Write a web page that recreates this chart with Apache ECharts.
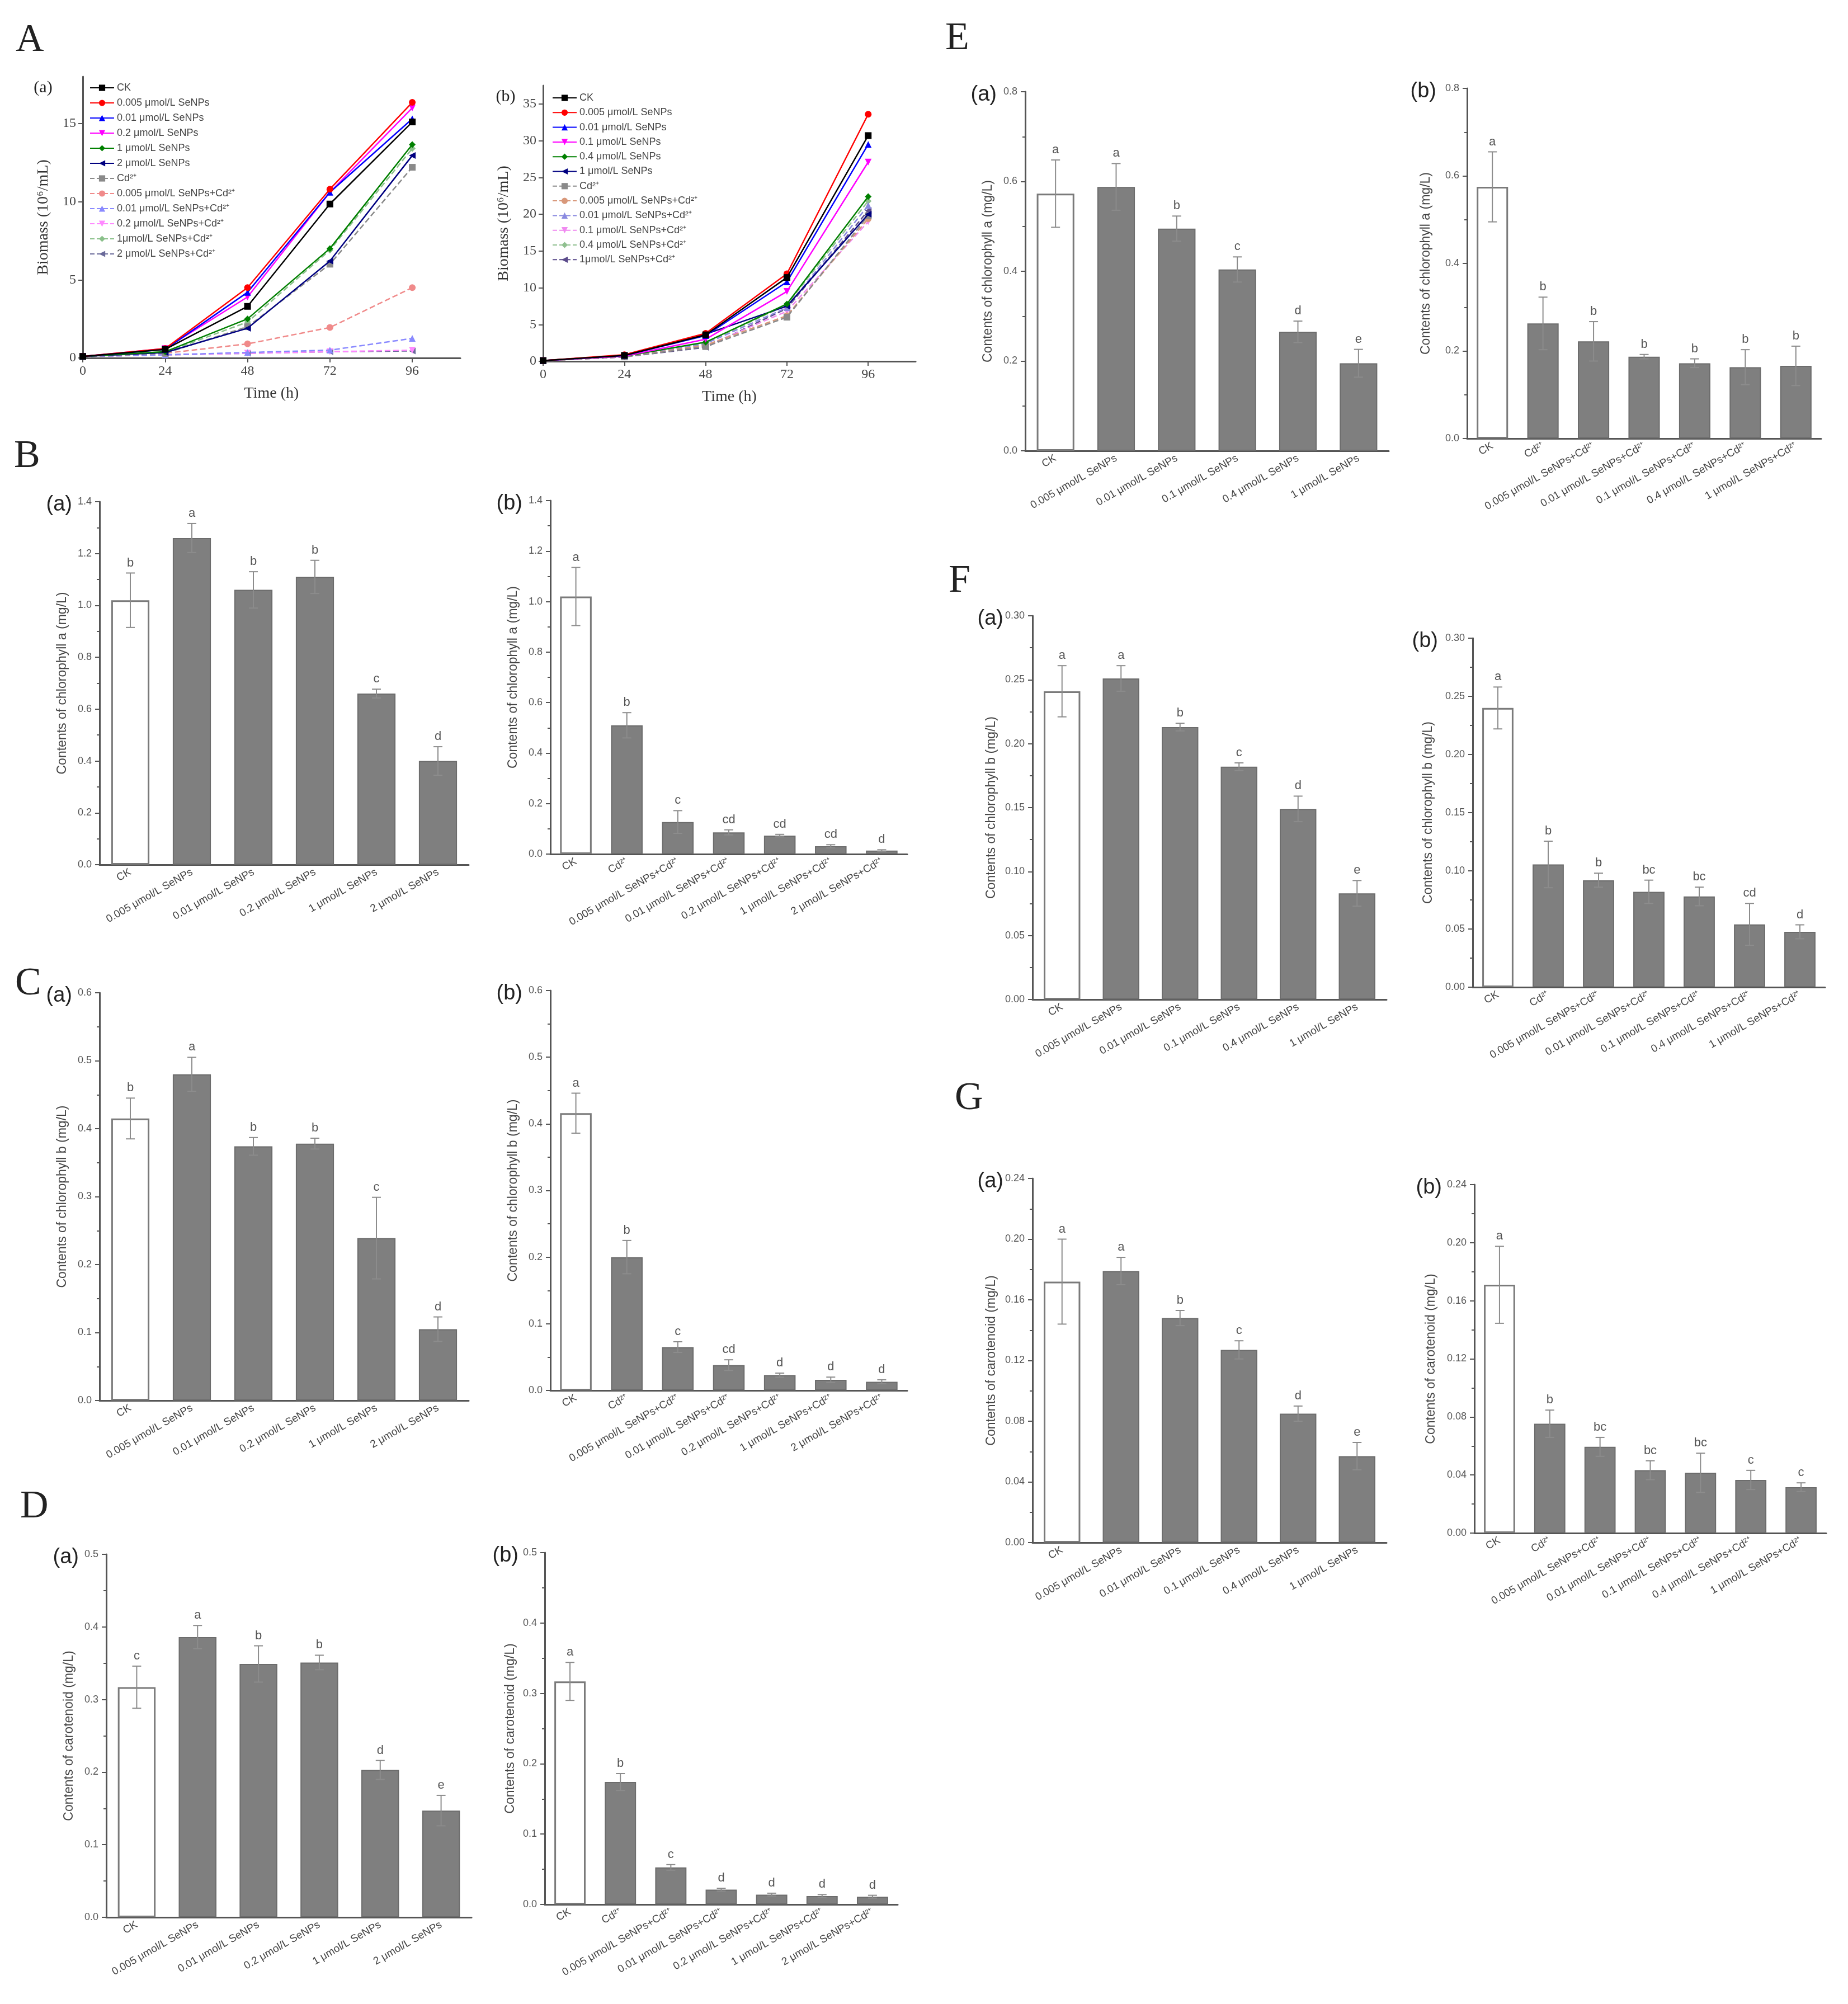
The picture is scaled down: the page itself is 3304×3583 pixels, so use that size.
<!DOCTYPE html>
<html>
<head>
<meta charset="utf-8">
<script src="https://cdn.jsdelivr.net/npm/echarts@6/dist/echarts.min.js"></script>
<style>
html, body { margin: 0; background: #fff; }
#chart { width: 3304px; height: 3583px; }
</style>
</head>
<body>
<div id="chart"></div>
<script>
// ---- A: growth curves (10^6/mL) ----
var hours = [0, 24, 48, 72, 96];

var gaCK = [0.1, 0.55, 3.3, 9.85, 15.1];
var ga0005 = [0.1, 0.6, 4.5, 10.8, 16.35];
var ga001 = [0.1, 0.55, 4.2, 10.6, 15.3];
var ga02 = [0.1, 0.6, 3.9, 10.6, 16.0];
var ga1 = [0.1, 0.4, 2.5, 7.0, 13.65];
var ga2 = [0.1, 0.35, 1.9, 6.2, 12.95];
var gaCd = [0.1, 0.3, 2.0, 6.0, 12.2];
var ga0005Cd = [0.1, 0.3, 0.9, 1.95, 4.5];
var ga001Cd = [0.1, 0.2, 0.35, 0.5, 1.25];
var ga02Cd = [0.1, 0.2, 0.3, 0.4, 0.5];
var ga1Cd = [0.1, 0.35, 2.3, 6.9, 13.4];
var ga2Cd = [0.1, 0.2, 0.3, 0.4, 0.45];

var gbCK = [0.1, 0.8, 3.6, 11.4, 30.7];
var gb0005 = [0.1, 0.9, 3.8, 11.9, 33.6];
var gb001 = [0.1, 0.8, 3.5, 10.8, 29.5];
var gb01 = [0.1, 0.7, 3.0, 9.5, 27.1];
var gb04 = [0.1, 0.7, 2.6, 7.8, 22.4];
var gb1 = [0.1, 0.8, 3.7, 7.5, 20.0];
var gbCd = [0.1, 0.6, 2.0, 6.0, 19.8];
var gb0005Cd = [0.1, 0.6, 2.2, 6.2, 19.4];
var gb001Cd = [0.1, 0.6, 2.4, 7.3, 21.2];
var gb01Cd = [0.1, 0.6, 2.1, 6.8, 19.0];
var gb04Cd = [0.1, 0.6, 2.5, 7.7, 21.8];
var gb1Cd = [0.1, 0.6, 1.9, 7.2, 20.5];

var namesGa = ['CK', '0.005 μmol/L SeNPs', '0.01 μmol/L SeNPs', '0.2 μmol/L SeNPs', '1 μmol/L SeNPs', '2 μmol/L SeNPs',
  'Cd²⁺', '0.005 μmol/L SeNPs+Cd²⁺', '0.01 μmol/L SeNPs+Cd²⁺', '0.2 μmol/L SeNPs+Cd²⁺', '1μmol/L SeNPs+Cd²⁺', '2 μmol/L SeNPs+Cd²⁺'];
var namesGb = ['CK', '0.005 μmol/L SeNPs', '0.01 μmol/L SeNPs', '0.1 μmol/L SeNPs', '0.4 μmol/L SeNPs', '1 μmol/L SeNPs',
  'Cd²⁺', '0.005 μmol/L SeNPs+Cd²⁺', '0.01 μmol/L SeNPs+Cd²⁺', '0.1 μmol/L SeNPs+Cd²⁺', '0.4 μmol/L SeNPs+Cd²⁺', '1μmol/L SeNPs+Cd²⁺'];

// ---- bar chart categories ----
var catsSe1 = ['CK', '0.005 μmol/L SeNPs', '0.01 μmol/L SeNPs', '0.2 μmol/L SeNPs', '1 μmol/L SeNPs', '2 μmol/L SeNPs'];
var catsCd1 = ['CK', 'Cd²⁺', '0.005 μmol/L SeNPs+Cd²⁺', '0.01 μmol/L SeNPs+Cd²⁺', '0.2 μmol/L SeNPs+Cd²⁺', '1 μmol/L SeNPs+Cd²⁺', '2 μmol/L SeNPs+Cd²⁺'];
var catsSe2 = ['CK', '0.005 μmol/L SeNPs', '0.01 μmol/L SeNPs', '0.1 μmol/L SeNPs', '0.4 μmol/L SeNPs', '1 μmol/L SeNPs'];
var catsCd2 = ['CK', 'Cd²⁺', '0.005 μmol/L SeNPs+Cd²⁺', '0.01 μmol/L SeNPs+Cd²⁺', '0.1 μmol/L SeNPs+Cd²⁺', '0.4 μmol/L SeNPs+Cd²⁺', '1 μmol/L SeNPs+Cd²⁺'];

// B chlorophyll a
var bSeVals = [1.02, 1.26, 1.06, 1.11, 0.66, 0.40];
var bSeErr = [0.105, 0.056, 0.07, 0.064, 0.017, 0.055];
var bSeSig = ['b', 'a', 'b', 'b', 'c', 'd'];
var bCdVals = [1.02, 0.51, 0.127, 0.086, 0.073, 0.031, 0.014];
var bCdErr = [0.115, 0.05, 0.045, 0.01, 0.005, 0.006, 0.003];
var bCdSig = ['a', 'b', 'c', 'cd', 'cd', 'cd', 'd'];
// C chlorophyll b
var cSeVals = [0.415, 0.48, 0.374, 0.378, 0.239, 0.105];
var cSeErr = [0.03, 0.025, 0.013, 0.008, 0.06, 0.018];
var cSeSig = ['b', 'a', 'b', 'b', 'c', 'd'];
var cCdVals = [0.416, 0.2, 0.065, 0.038, 0.023, 0.016, 0.013];
var cCdErr = [0.03, 0.025, 0.008, 0.008, 0.003, 0.004, 0.003];
var cCdSig = ['a', 'b', 'c', 'cd', 'd', 'd', 'd'];
// D carotenoid
var dSeVals = [0.317, 0.386, 0.349, 0.351, 0.203, 0.147];
var dSeErr = [0.029, 0.016, 0.025, 0.01, 0.013, 0.021];
var dSeSig = ['c', 'a', 'b', 'b', 'd', 'e'];
var dCdVals = [0.317, 0.174, 0.0526, 0.021, 0.014, 0.012, 0.011];
var dCdErr = [0.027, 0.012, 0.004, 0.002, 0.002, 0.002, 0.002];
var dCdSig = ['a', 'b', 'c', 'd', 'd', 'd', 'd'];
// E chlorophyll a
var eSeVals = [0.573, 0.588, 0.495, 0.404, 0.265, 0.195];
var eSeErr = [0.075, 0.052, 0.028, 0.028, 0.024, 0.031];
var eSeSig = ['a', 'a', 'b', 'c', 'd', 'e'];
var eCdVals = [0.575, 0.263, 0.222, 0.187, 0.172, 0.163, 0.166];
var eCdErr = [0.08, 0.06, 0.045, 0.005, 0.01, 0.04, 0.045];
var eCdSig = ['a', 'b', 'b', 'b', 'b', 'b', 'b'];
// F chlorophyll b
var fSeVals = [0.241, 0.251, 0.213, 0.182, 0.149, 0.083];
var fSeErr = [0.02, 0.01, 0.003, 0.003, 0.01, 0.01];
var fSeSig = ['a', 'a', 'b', 'c', 'd', 'e'];
var fCdVals = [0.240, 0.1055, 0.092, 0.082, 0.078, 0.054, 0.0476];
var fCdErr = [0.018, 0.02, 0.006, 0.01, 0.008, 0.018, 0.006];
var fCdSig = ['a', 'b', 'b', 'bc', 'bc', 'cd', 'd'];
// G carotenoid
var gSeVals = [0.172, 0.179, 0.148, 0.127, 0.085, 0.057];
var gSeErr = [0.028, 0.009, 0.005, 0.006, 0.005, 0.009];
var gSeSig = ['a', 'a', 'b', 'c', 'd', 'e'];
var gCdVals = [0.171, 0.0753, 0.0594, 0.0433, 0.0415, 0.0366, 0.0316];
var gCdErr = [0.0265, 0.0094, 0.0065, 0.0065, 0.0135, 0.0066, 0.003];
var gCdSig = ['a', 'b', 'bc', 'bc', 'bc', 'c', 'c'];

var SANS = 'Liberation Sans', SERIF = 'Liberation Serif';
var AX = '#555';
var chart = echarts.init(document.getElementById('chart'));
var grid = [], xAxis = [], yAxis = [], series = [], graphic = [], legend = [];

function text(txt, x, y, size, family, align) {
  graphic.push({
    type: 'text', x: x, y: y, silent: true,
    style: { text: txt, fontSize: size, fontFamily: family, fill: '#222', align: align || 'left', verticalAlign: 'middle' }
  });
}

var downTri = 'path://M0,0 L10,0 L5,9 Z';
var leftTri = 'path://M10,0 L10,10 L1,5 Z';
var symbols = ['rect', 'circle', 'triangle', downTri, 'diamond', leftTri];

function linePanel(box, ymax, yTicks, names, lists, colors, suffix) {
  var gi = grid.length;
  grid.push({ left: box[0], top: box[1], width: box[2] - box[0], height: box[3] - box[1] });
  xAxis.push({
    type: 'value', gridIndex: gi, min: 0, max: 110,
    name: 'Time (h)', nameLocation: 'middle', nameGap: 50,
    nameTextStyle: { fontFamily: SERIF, fontSize: 28, color: '#333' },
    axisLine: { lineStyle: { color: AX, width: 3 } },
    axisTick: { customValues: hours, length: 8, lineStyle: { color: AX, width: 2 } },
    axisLabel: { customValues: hours, fontFamily: SERIF, fontSize: 24, color: '#444', margin: 12 },
    splitLine: { show: false }
  });
  yAxis.push({
    type: 'value', gridIndex: gi, min: 0, max: ymax,
    name: 'Biomass (10⁶/mL)', nameLocation: 'middle', nameGap: 56, nameRotate: 90,
    nameTextStyle: { fontFamily: SERIF, fontSize: 28, color: '#333' },
    axisLine: { show: true, lineStyle: { color: AX, width: 3 } },
    axisTick: { show: true, customValues: yTicks, length: 8, lineStyle: { color: AX, width: 2 } },
    axisLabel: { customValues: yTicks, fontFamily: SERIF, fontSize: 24, color: '#444', margin: 12 },
    splitLine: { show: false }
  });
  names.forEach(function (nm, k) {
    series.push({
      type: 'line', name: nm + suffix, xAxisIndex: gi, yAxisIndex: gi,
      data: hours.map(function (h, j) { return [h, lists[k][j]]; }),
      symbol: symbols[k % 6], symbolSize: 12,
      lineStyle: { color: colors[k], width: 2.5, type: k < 6 ? 'solid' : 'dashed' },
      itemStyle: { color: colors[k] },
      z: 20 - k
    });
  });
}

linePanel([148, 137, 823, 640], 18, [0, 5, 10, 15], namesGa,
  [gaCK, ga0005, ga001, ga02, ga1, ga2, gaCd, ga0005Cd, ga001Cd, ga02Cd, ga1Cd, ga2Cd],
  ['#000000', '#ff0000', '#0000ff', '#ff00ff', '#008000', '#000080',
   '#8a8a8a', '#f08a8a', '#8a8aff', '#ff8aff', '#8ac08a', '#6a6a9a'], '');
linePanel([971, 153, 1637, 646], 37.5, [0, 5, 10, 15, 20, 25, 30, 35], namesGb,
  [gbCK, gb0005, gb001, gb01, gb04, gb1, gbCd, gb0005Cd, gb001Cd, gb01Cd, gb04Cd, gb1Cd],
  ['#000000', '#ff0000', '#0000ff', '#ff00ff', '#008000', '#000080',
   '#8a8a8a', '#d8987a', '#8a8ae0', '#f08af0', '#90c090', '#5a4a8a'], '\u200b');

legend.push({
  data: namesGa, orient: 'vertical', left: 155, top: 143, itemWidth: 43, itemHeight: 14, itemGap: 9,
  textStyle: { fontFamily: SANS, fontSize: 18, color: '#444' }
});
legend.push({
  data: namesGb.map(function (n) { return n + '\u200b'; }), orient: 'vertical', left: 982, top: 161,
  itemWidth: 43, itemHeight: 14, itemGap: 8.3,
  textStyle: { fontFamily: SANS, fontSize: 18, color: '#444' }
});
text('(a)', 77, 157, 30, SERIF, 'center');
text('(b)', 904, 173, 30, SERIF, 'center');

function errRenderer(sig) {
  return function (params, api) {
    var i = api.value(0), v = api.value(1), e = api.value(2);
    var hi = api.coord([i, v + e]), lo = api.coord([i, v - e]);
    var x = hi[0], c = 8, st = { stroke: '#8c8c8c', lineWidth: 2 };
    return {
      type: 'group', children: [
        { type: 'line', shape: { x1: x, y1: hi[1], x2: x, y2: lo[1] }, style: st },
        { type: 'line', shape: { x1: x - c, y1: hi[1], x2: x + c, y2: hi[1] }, style: st },
        { type: 'line', shape: { x1: x - c, y1: lo[1], x2: x + c, y2: lo[1] }, style: st },
        { type: 'text', x: x, y: hi[1] - 7,
          style: { text: sig[params.dataIndex], fontSize: 22, fontFamily: SANS, fill: '#555', align: 'center', verticalAlign: 'bottom' } }
      ]
    };
  };
}

function barPanel(box, tag, tagGap, cats, vals, errs, sig, max, step, dec, title, nameGap, rot) {
  var gi = grid.length;
  grid.push({ left: box[0], top: box[1], width: box[2] - box[0], height: box[3] - box[1] });
  xAxis.push({
    type: 'category', gridIndex: gi, data: cats,
    axisLine: { lineStyle: { color: AX, width: 3 } },
    axisTick: { alignWithLabel: true, length: 8, lineStyle: { color: AX, width: 2 } },
    axisLabel: { interval: 0, rotate: rot, fontFamily: SANS, fontSize: 19, color: '#444', margin: 12 }
  });
  yAxis.push({
    type: 'value', gridIndex: gi, min: 0, max: max, interval: step,
    name: title, nameLocation: 'middle', nameRotate: 90, nameGap: nameGap,
    nameTextStyle: { fontFamily: SANS, fontSize: 23, color: '#444' },
    axisLine: { show: true, lineStyle: { color: AX, width: 3 } },
    axisTick: { show: true, length: 8, lineStyle: { color: AX, width: 2 } },
    minorTick: { show: true, splitNumber: 2, length: 5, lineStyle: { color: AX, width: 2 } },
    axisLabel: { fontFamily: SANS, fontSize: 18, color: '#555', margin: 14,
      formatter: function (v) { return v.toFixed(dec); } },
    splitLine: { show: false }
  });
  series.push({
    type: 'bar', xAxisIndex: gi, yAxisIndex: gi, barWidth: '62%',
    itemStyle: { color: '#7f7f7f', borderColor: '#6c6c6c', borderWidth: 2 },
    data: vals.map(function (v, j) {
      return j === 0 ? { value: v, itemStyle: { color: '#ffffff', borderColor: '#7a7a7a', borderWidth: 3 } } : v;
    })
  });
  series.push({
    type: 'custom', xAxisIndex: gi, yAxisIndex: gi, z: 5, clip: false,
    encode: { x: 0, y: 1 },
    renderItem: errRenderer(sig),
    data: vals.map(function (v, j) { return [j, v, errs[j]]; })
  });
  text(tag, box[0] - tagGap, box[1] + 6, 38, SANS, 'right');
}

var tChlA = 'Contents of chlorophyll a (mg/L)';
var tChlB = 'Contents of chlorophyll b (mg/L)';
var tCar = 'Contents of carotenoid (mg/L)';

barPanel([178, 897, 838, 1546], '(a)', 49, catsSe1, bSeVals, bSeErr, bSeSig, 1.4, 0.2, 1, tChlA, 55, 30);
barPanel([984, 895, 1622, 1527], '(b)', 50, catsCd1, bCdVals, bCdErr, bCdSig, 1.4, 0.2, 1, tChlA, 55, 30);
barPanel([178, 1775, 838, 2504], '(a)', 49, catsSe1, cSeVals, cSeErr, cSeSig, 0.6, 0.1, 1, tChlB, 55, 30);
barPanel([984, 1771, 1622, 2486], '(b)', 50, catsCd1, cCdVals, cCdErr, cCdSig, 0.6, 0.1, 1, tChlB, 55, 30);
barPanel([190, 2779, 843, 3428], '(a)', 49, catsSe1, dSeVals, dSeErr, dSeSig, 0.5, 0.1, 1, tCar, 55, 30);
barPanel([974, 2776, 1605, 3405], '(b)', 47, catsCd1, dCdVals, dCdErr, dCdSig, 0.5, 0.1, 1, tCar, 50, 30);
barPanel([1833, 164, 2483, 806], '(a)', 51, catsSe2, eSeVals, eSeErr, eSeSig, 0.8, 0.2, 1, tChlA, 55, 30);
barPanel([2623, 158, 3256, 784], '(b)', 55, catsCd2, eCdVals, eCdErr, eCdSig, 0.8, 0.2, 1, tChlA, 62, 30);
barPanel([1846, 1101, 2479, 1787], '(a)', 52, catsSe2, fSeVals, fSeErr, fSeSig, 0.30, 0.05, 2, tChlB, 62, 30);
barPanel([2633, 1141, 3263, 1765], '(b)', 62, catsCd2, fCdVals, fCdErr, fCdSig, 0.30, 0.05, 2, tChlB, 68, 30);
barPanel([1846, 2107, 2479, 2758], '(a)', 52, catsSe2, gSeVals, gSeErr, gSeSig, 0.24, 0.04, 2, tCar, 62, 30);
barPanel([2636, 2118, 3265, 2741], '(b)', 58, catsCd2, gCdVals, gCdErr, gCdSig, 0.24, 0.04, 2, tCar, 66, 30);

// panel letters
text('A', 28, 73, 70, SERIF);
text('B', 25, 817, 70, SERIF);
text('C', 27, 1760, 70, SERIF);
text('D', 36, 2695, 70, SERIF);
text('E', 1690, 70, 70, SERIF);
text('F', 1696, 1040, 70, SERIF);
text('G', 1707, 1965, 70, SERIF);

chart.setOption({
  backgroundColor: '#ffffff',
  animation: false,
  grid: grid,
  xAxis: xAxis,
  yAxis: yAxis,
  legend: legend,
  series: series,
  graphic: graphic
});
</script>
</body>
</html>
